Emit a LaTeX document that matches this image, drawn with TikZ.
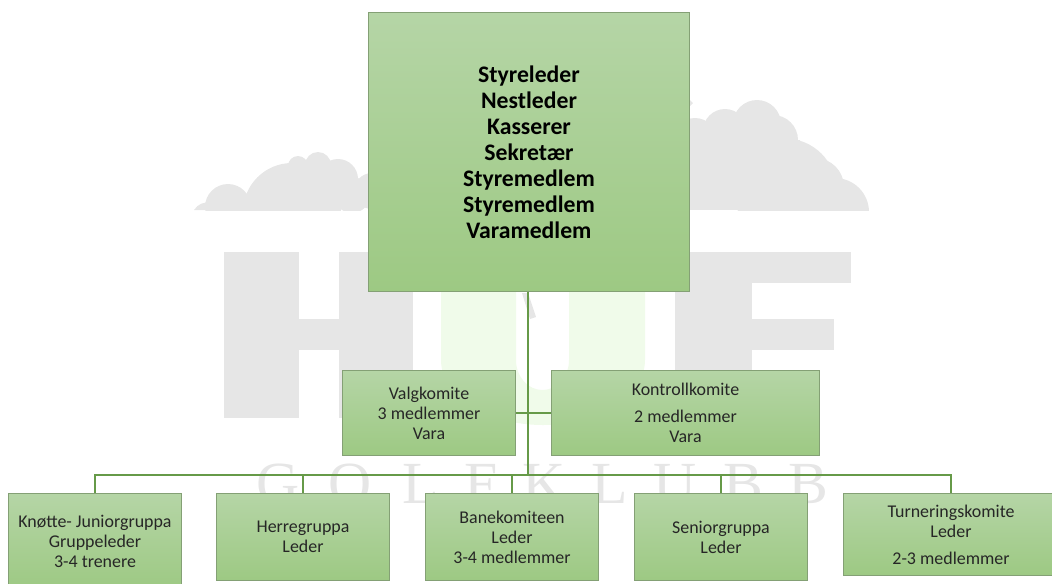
\documentclass[tikz,border=0pt]{standalone}
\usepackage{fontspec}
\setmainfont{Carlito}
\newfontfamily\markfont{Liberation Serif}
\definecolor{boxtop}{HTML}{B5D5A6}
\definecolor{boxbottom}{HTML}{9DC983}
\definecolor{boxline}{HTML}{84A075}
\definecolor{linkline}{HTML}{669A48}
\definecolor{markgrey}{HTML}{E6E6E6}
\definecolor{markgreen}{HTML}{F0FBEA}
\tikzset{
  komite/.style={draw=boxline, line width=0.6pt, top color=boxtop, bottom color=boxbottom, align=center, font=\fontsize{10.2}{11.4}\selectfont, text=black!85, inner sep=0pt},
  styre/.style={komite, font=\fontsize{13.5}{14.8}\selectfont\bfseries, text=black},
  link/.style={draw=linkline, line width=0.8pt},
}
\begin{document}
\begin{tikzpicture}[x=0.02cm, y=-0.02cm]
                \clip (0,0) rectangle (1052,583);
                % skyer
                \begin{scope}
                  \clip (190,90) rectangle (880,210);
                  \fill[markgrey] (194,210) .. controls (198,204) and (203,202) .. (212,202) -- (212,210) -- cycle;
                  \fill[markgrey] (690,140) rectangle (800,210);
                  \fill[markgrey] (690,100) -- (693,103) -- (690,106) -- cycle;
                  \foreach \cx/\cy/\cr in {228/207/23, 292/212/49, 298/166/10, 318/165/13, 338/179/20, 352/195/18, 372/191/18,
                                           695/140/22, 725/131/22, 757/124/24, 773/140/25, 785/190/51.5, 815/187/29, 835/212/34}
                    \fill[markgrey] (\cx,\cy) circle[radius=\cr];
                \end{scope}
                % bokstaver
                \fill[markgrey] (224,252) rectangle (299,418);
                \fill[markgrey] (339,252) rectangle (413,418);
                \fill[markgrey] (299,319) rectangle (339,350);
                \fill[markgreen] (441,252) -- (516,252) -- (516,360) arc[start angle=180, end angle=0, x radius=26.5, y radius=30] -- (569,252) -- (645,252) -- (645,360) arc[start angle=0, end angle=180, x radius=102, y radius=65] -- cycle;
                \fill[markgrey] (522,293) -- (528,293) -- (536,317) -- (530,319) -- cycle;
                \fill[markgrey] (675,252) rectangle (752,418);
                \fill[markgrey] (752,252) rectangle (851,283);
                \fill[markgrey] (752,319) rectangle (834,350);
                \foreach \lx/\letter in {278/G, 350/O, 421/L, 481/F, 544/K, 610/L, 675/U, 743/B, 808/B}
                  \node[font=\markfont\fontsize{34}{34}\selectfont, text=markgrey, inner sep=0pt, anchor=base] at (\lx,503) {\letter};
                % bokser
                \node[styre, minimum width=183pt, minimum height=159pt] (styret) at (529,152) {Styreleder\\Nestleder\\Kasserer\\Sekretær\\Styremedlem\\Styremedlem\\Varamedlem};
                \node[komite, minimum width=98.4pt, minimum height=48.6pt] (valg) at (429,413) {Valgkomite\\3 medlemmer\\Vara};
                \node[komite, minimum width=152.4pt, minimum height=48.6pt] (kontroll) at (685.5,413) {Kontrollkomite\\[4pt]2 medlemmer\\Vara};
                \node[komite, minimum width=98.4pt, minimum height=55pt] (knotte) at (95,541.5) {Knøtte- Juniorgruppa\\Gruppeleder\\3-4 trenere};
                \node[komite, minimum width=98.4pt, minimum height=49.6pt] (herre) at (303,537) {Herregruppa\\Leder};
                \node[komite, minimum width=98.4pt, minimum height=49.6pt] (bane) at (512,537) {Banekomiteen\\Leder\\3-4 medlemmer};
                \node[komite, minimum width=98pt, minimum height=49.6pt] (senior) at (721,537) {Seniorgruppa\\Leder};
                \node[komite, minimum width=122pt, minimum height=46.6pt] (turnering) at (951,534.5) {Turneringskomite\\Leder\\[4pt]2-3 medlemmer};
                % linjer
                \coordinate (midt) at (528,475);
                \draw[link] (styret.south -| midt) -- (midt);
                \draw[link] (valg.east) -- (kontroll.west);
                \foreach \gruppe in {knotte, herre, bane, senior, turnering}
                  \draw[link] (midt) -| (\gruppe.north);
              \end{tikzpicture}
\end{document}
